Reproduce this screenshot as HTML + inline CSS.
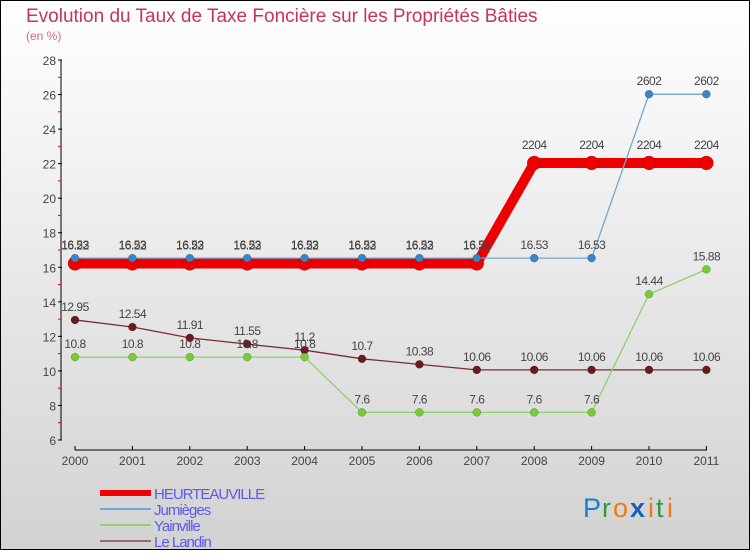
<!DOCTYPE html>
<html><head><meta charset="utf-8"><style>
html,body{margin:0;padding:0;}
body{width:750px;height:550px;overflow:hidden;font-family:"Liberation Sans",sans-serif;}
</style></head><body>
<svg id="chart" width="750" height="550" xmlns="http://www.w3.org/2000/svg">
<defs><linearGradient id="bg" x1="0" y1="0" x2="0" y2="1"><stop offset="0" stop-color="#ffffff"/><stop offset="1" stop-color="#d2d2d2"/></linearGradient></defs>
<rect x="0.5" y="0.5" width="749" height="549" fill="url(#bg)" stroke="#000" stroke-width="1"/>
<text x="26" y="22" font-size="19" fill="#c8325e">Evolution du Taux de Taxe Foncière sur les Propriétés Bâties</text>
<text x="26" y="40" font-size="12" fill="#d2668a">(en %)</text>
<g id="axes"></g><g id="series"></g><g id="legend"></g>
<g font-size="27" font-family="Liberation Sans, sans-serif">
<text x="583" y="517" fill="#1a7fd0">P</text><text x="602" y="517" fill="#2e9c3e">r</text><text x="613" y="517" fill="#f07a10">o</text><text x="630" y="517" fill="#1a5ec0" font-weight="bold">x</text><text x="648" y="517" fill="#f07a10">i</text><text x="656" y="517" fill="#2e9c3e">t</text><text x="667" y="517" fill="#f07a10">i</text>
</g>
</svg>
<script>
const years=[2000,2001,2002,2003,2004,2005,2006,2007,2008,2009,2010,2011];
const heurteauville=[16.22,16.22,16.22,16.22,16.22,16.22,16.22,16.22,22.04,22.04,22.04,22.04];
const jumieges=[16.53,16.53,16.53,16.53,16.53,16.53,16.53,16.53,16.53,16.53,26.02,26.02];
const yainville=[10.8,10.8,10.8,10.8,10.8,7.6,7.6,7.6,7.6,7.6,14.44,15.88];
const leLandin=[12.95,12.54,11.91,11.55,11.2,10.7,10.38,10.06,10.06,10.06,10.06,10.06];
const yTicks=[6,8,10,12,14,16,18,20,22,24,26,28];
const NS="http://www.w3.org/2000/svg";
const x=i=>75+i*57.4;
const y=v=>440-(v-6)*(380/22);
function mk(tag,attrs,parent,txt){const e=document.createElementNS(NS,tag);for(const k in attrs)e.setAttribute(k,attrs[k]);if(txt!==undefined)e.textContent=txt;parent.appendChild(e);return e;}
const axes=document.getElementById('axes');
let e=mk('line',{x1:61,y1:60,x2:61,y2:440,stroke:'#000','stroke-width':1},axes);


yTicks.forEach(t=>{
  mk('line',{x1:58,y1:y(t),x2:62,y2:y(t),stroke:'#000'},axes);
  if(t<28) mk('line',{x1:58,y1:y(t+1),x2:61,y2:y(t+1),stroke:'#e00'},axes);
  const l=mk('text',{x:56,y:y(t)+5,'font-size':12,'text-anchor':'end',fill:'#444'},axes,String(t));
  
  
});
e=mk('line',{x1:75,y1:450,x2:707,y2:450,stroke:'#000'},axes);


years.forEach((yr,i)=>{
  mk('line',{x1:x(i),y1:446,x2:x(i),y2:450,stroke:'#000'},axes);
  const l=mk('text',{x:x(i),y:465,'font-size':12,'text-anchor':'middle',fill:'#444'},axes,String(yr));
  
  
});
const ser=document.getElementById('series');
function fmt(v){return String(v).replace('.', v>=20?'':'.');}
function draw(vals,color,dot,w,r,name,labelDy){
  const g=mk('g',{},ser);
  
  
  mk('polyline',{points:vals.map((v,i)=>x(i)+','+y(v)).join(' '),fill:'none',stroke:color,'stroke-width':w},g);
  vals.forEach((v,i)=>{
    const c=mk('circle',{cx:x(i),cy:y(v),r:r,fill:dot,stroke:'rgba(0,0,0,0.3)','stroke-width':0.5},g);
    
    
    mk('text',{x:x(i),y:y(v)+labelDy,'font-size':12,'text-anchor':'middle',fill:'#444','letter-spacing':'-0.5'},g,String(v).replace(/^(2\d)\.(\d\d)$/,'$1$2'));
  });
}
draw(leLandin,'#7a2c30','#6b1a1e',1.3,4,'le-landin-series',-9);
draw(yainville,'#8fd070','#77cc33',1.3,4,'yainville-series',-9);
draw(heurteauville,'#ee0000','#ee0000',10,7,'heurteauville-series',-14);
draw(jumieges,'#6fa8d8','#3a85c8',1.3,4,'jumieges-series',-9);
const lg=document.getElementById('legend');
[['HEURTEAUVILLE','#ee0000',6],['Jumièges','#6fa8d8',2],['Yainville','#8fd070',2],['Le Landin','#9a6a6a',2]].forEach((d,i)=>{
  const g=mk('g',{},lg);
  
  
  const yy=493+i*16;
  mk('line',{x1:100,y1:yy,x2:151,y2:yy,stroke:d[1],'stroke-width':d[2]},g);
  mk('text',{x:154,y:yy+6,'font-size':15,fill:'#5a5aee','letter-spacing':'-1'},g,d[0]);
});
</script>
</body></html>
